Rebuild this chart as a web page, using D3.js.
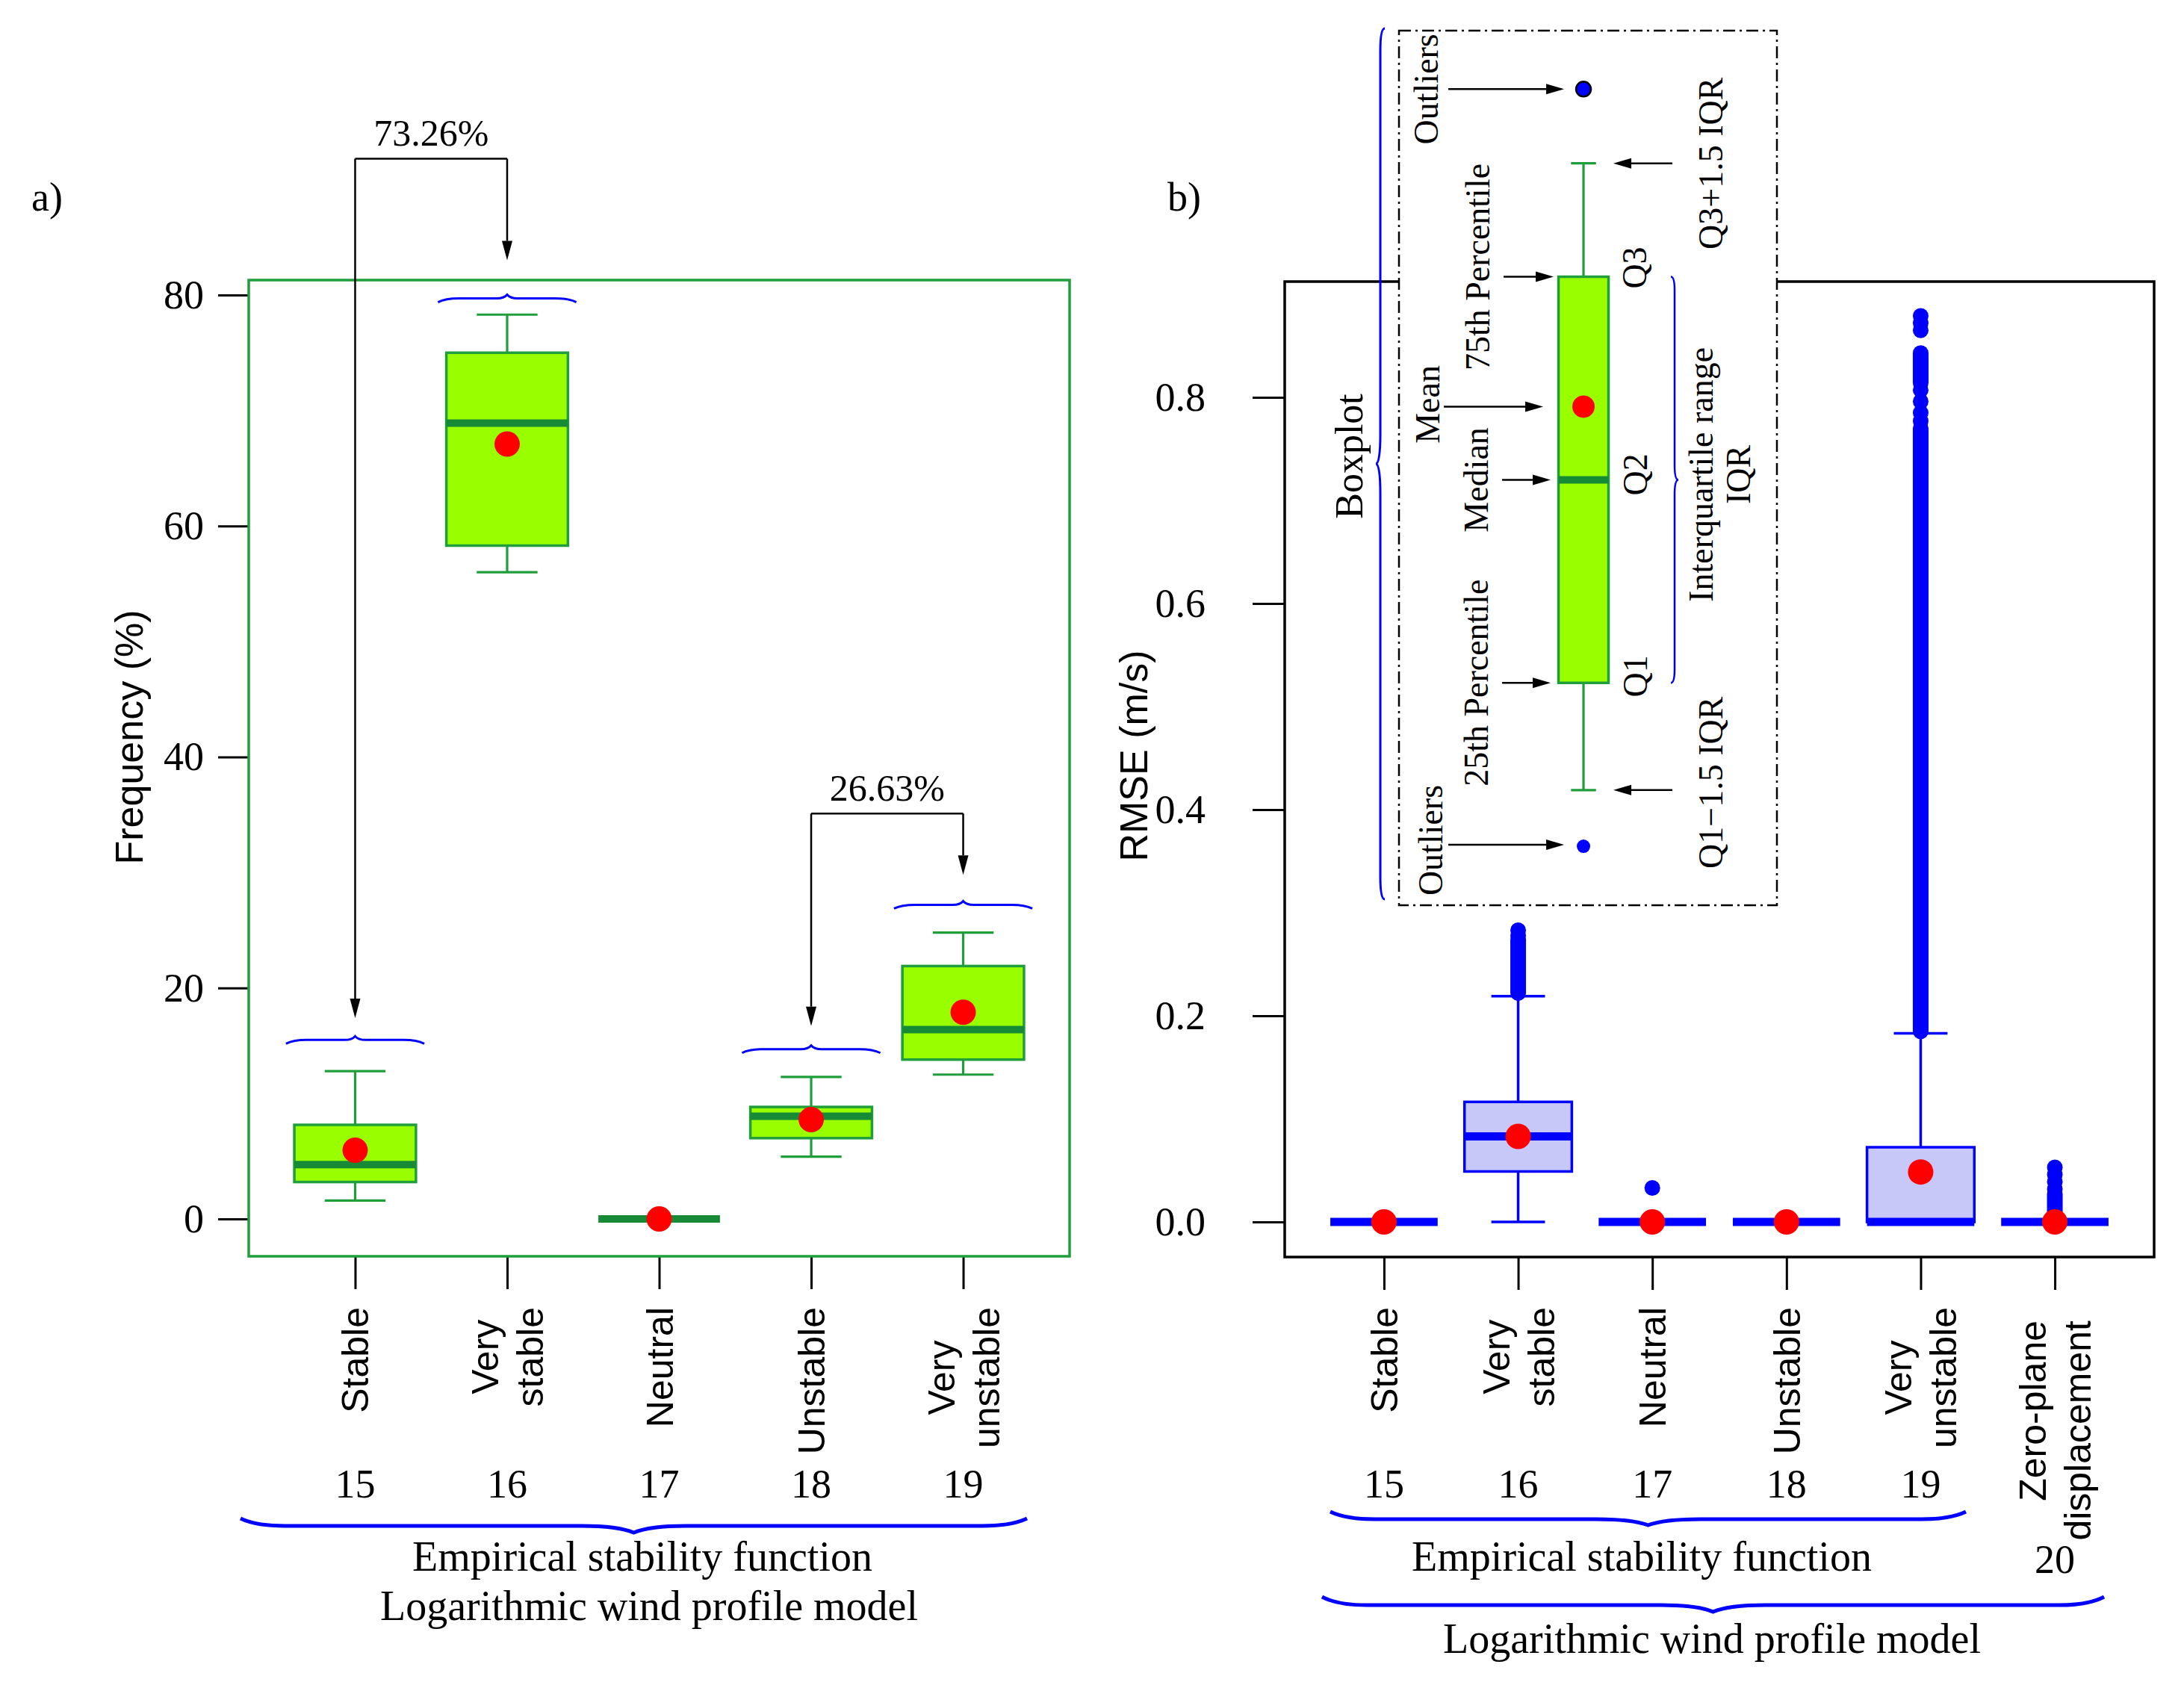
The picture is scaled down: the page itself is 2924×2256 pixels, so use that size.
<!DOCTYPE html>
<html>
<head>
<meta charset="utf-8">
<script src="https://cdn.jsdelivr.net/npm/d3@7"></script>
<style>
  body { margin: 0; background: #fff; }
</style>
</head>
<body>
<svg id="chart"></svg>
<script>
// ---- data: panel a, frequency of stability classes ----
const freqCategories = ['Stable', 'Very\nstable', 'Neutral', 'Unstable', 'Very\nunstable']
const freqCodes = ['15', '16', '17', '18', '19']
const freqLow = [1.6, 56.0, 0, 5.4, 12.5]
const freqQ1 = [3.2, 58.3, 0, 7.0, 13.8]
const freqMedian = [4.7, 68.9, 0, 8.9, 16.4]
const freqQ3 = [8.15, 75.0, 0, 9.7, 21.9]
const freqHigh = [12.8, 78.3, 0, 12.3, 24.8]
const freqMean = [5.95, 67.1, 0, 8.6, 17.9]
const freqTicks = [0, 20, 40, 60, 80]
const freqBrace = [15.5, 79.7, null, 14.7, 27.2]
const freqShares = ['73.26%', '26.63%']
const freqShareFrom = [0, 3]
const freqShareTo = [1, 4]
const freqShareTop = [91.8, 35.1]
const freqShareTipFrom = [17.4, 16.7]
const freqShareTipTo = [83.0, 29.8]

// ---- data: panel b, RMSE ----
const rmseCategories = ['Stable', 'Very\nstable', 'Neutral', 'Unstable', 'Very\nunstable', 'Zero-plane\ndisplacement']
const rmseCodes = ['15', '16', '17', '18', '19', '20']
const rmseLow = [0, 0, 0, 0, 0, 0]
const rmseQ1 = [0, 0.049, 0, 0, 0, 0]
const rmseMedian = [0, 0.083, 0, 0, 0, 0]
const rmseQ3 = [0, 0.1165, 0, 0, 0.0725, 0]
const rmseHigh = [0, 0.219, 0, 0, 0.183, 0]
const rmseMean = [0, 0.083, 0, 0, 0.0485, 0]
const rmseTicks = [0, 0.2, 0.4, 0.6, 0.8]
// single outliers, and runs of outliers so dense they merge into a bar
const rmseOutliers = [
  [],
  [0.278, 0.283],
  [0.033],
  [],
  [0.879, 0.872, 0.865, 0.807, 0.796, 0.785, 0.777],
  [0.053, 0.046, 0.039, 0.032]
]
const rmseOutlierRuns = [
  [],
  [[0.222, 0.274]],
  [],
  [],
  [[0.814, 0.843], [0.185, 0.770]],
  [[0, 0.027]]
]

// ---- legend box (drawn on the RMSE scale) ----
const legendStats = { low: 0.419, q1: 0.523, median: 0.72, mean: 0.791, q3: 0.917, high: 1.027, outLow: 0.3645, outHigh: 1.099 }

const W = 2924
const H = 2256
const SERIF = '"Liberation Serif", "Times New Roman", serif'
const SANS = '"Liberation Sans", Arial, sans-serif'
const GREEN = '#1f9e3b'
const DKGREEN = '#178a35'
const LIME = '#99ff00'
const BLUE = '#0000ff'
const LAVENDER = '#c8c8f8'
const RED = '#ff0000'

const svg = d3.select('#chart').attr('width', W).attr('height', H)
svg.append('rect').attr('width', W).attr('height', H).attr('fill', '#fff')

function vText(g, x, y, str, size, family, anchor) {
  return g.append('text')
    .attr('transform', 'translate(' + x + ',' + y + ') rotate(-90)')
    .attr('text-anchor', anchor || 'middle')
    .attr('font-family', family)
    .attr('font-size', size)
    .attr('fill', '#000')
    .text(str)
}

function hText(g, x, y, str, size, family, anchor) {
  return g.append('text')
    .attr('x', x).attr('y', y)
    .attr('text-anchor', anchor || 'middle')
    .attr('font-family', family)
    .attr('font-size', size)
    .attr('fill', '#000')
    .text(str)
}

// horizontal curly brace, dir -1 = tip up, +1 = tip down
function hBrace(x0, x1, y, dir, tip, end, re, rc) {
  const xm = (x0 + x1) / 2
  return 'M' + x0 + ',' + (y - dir * end) +
    'Q' + (x0 + re * 0.35) + ',' + y + ' ' + (x0 + re) + ',' + y +
    'L' + (xm - rc) + ',' + y +
    'Q' + (xm - rc * 0.3) + ',' + y + ' ' + xm + ',' + (y + dir * tip) +
    'Q' + (xm + rc * 0.3) + ',' + y + ' ' + (xm + rc) + ',' + y +
    'L' + (x1 - re) + ',' + y +
    'Q' + (x1 - re * 0.35) + ',' + y + ' ' + x1 + ',' + (y - dir * end)
}

// vertical curly brace, dir -1 = tip left, +1 = tip right
function vBrace(y0, y1, x, dir, tip, end, re, rc) {
  const ym = (y0 + y1) / 2
  return 'M' + (x - dir * end) + ',' + y0 +
    'Q' + x + ',' + y0 + ' ' + x + ',' + (y0 + re) +
    'L' + x + ',' + (ym - rc) +
    'Q' + x + ',' + ym + ' ' + (x + dir * tip) + ',' + ym +
    'Q' + x + ',' + ym + ' ' + x + ',' + (ym + rc) +
    'L' + x + ',' + (y1 - re) +
    'Q' + x + ',' + y1 + ' ' + (x - dir * end) + ',' + y1
}

function arrow(g, x1, y1, x2, y2, head, hw) {
  const ang = Math.atan2(y2 - y1, x2 - x1)
  const bx = x2 - head * Math.cos(ang)
  const by = y2 - head * Math.sin(ang)
  g.append('line')
    .attr('x1', x1).attr('y1', y1).attr('x2', bx).attr('y2', by)
    .attr('stroke', '#000').attr('stroke-width', 2.5)
  g.append('path')
    .attr('d', 'M' + x2 + ',' + y2 +
      'L' + (bx + hw * Math.sin(ang)) + ',' + (by - hw * Math.cos(ang)) +
      'L' + (bx - hw * Math.sin(ang)) + ',' + (by + hw * Math.cos(ang)) + 'Z')
    .attr('fill', '#000')
}

function drawBox(g, x, y, pos, s, widthUnits, st) {
  const cx = x(pos)
  const half = (x(pos + widthUnits / 2) - x(pos - widthUnits / 2)) / 2
  const cap = half / 2
  const line = (x1, y1, x2, y2, w, c) => g.append('line')
    .attr('x1', x1).attr('y1', y1).attr('x2', x2).attr('y2', y2)
    .attr('stroke', c).attr('stroke-width', w)
  line(cx, y(s.q3), cx, y(s.high), st.whisker, st.stroke)
  line(cx, y(s.q1), cx, y(s.low), st.whisker, st.stroke)
  line(cx - cap, y(s.high), cx + cap, y(s.high), st.whisker, st.stroke)
  line(cx - cap, y(s.low), cx + cap, y(s.low), st.whisker, st.stroke)
  g.append('rect')
    .attr('x', cx - half).attr('y', y(s.q3))
    .attr('width', 2 * half).attr('height', y(s.q1) - y(s.q3))
    .attr('fill', st.fill).attr('stroke', st.stroke).attr('stroke-width', st.boxStroke)
  line(cx - half, y(s.median), cx + half, y(s.median), st.medWidth, st.median)
}

function catLabels(g, x, cats, top, topAligned) {
  const size = 50
  const gap = 60
  cats.forEach((c, i) => {
    const lines = c.split('\n')
    const cx = x(i + 1)
    const items = lines.map((ln, j) => {
      const bx = cx + (j - (lines.length - 1) / 2) * gap + 0.36 * size
      return { bx: bx, t: vText(g, bx, 0, ln, size, SANS, 'middle') }
    })
    const longest = d3.max(items, d => d.t.node().getComputedTextLength())
    items.forEach(d => {
      if (topAligned.indexOf(i) >= 0) {
        d.t.attr('text-anchor', 'end')
          .attr('transform', 'translate(' + d.bx + ',' + (top + 18) + ') rotate(-90)')
      } else {
        d.t.attr('transform', 'translate(' + d.bx + ',' + (top + longest / 2) + ') rotate(-90)')
      }
    })
  })
}

function styleAxis(sel) {
  sel.select('.domain').remove()
  sel.selectAll('.tick line').attr('stroke', '#000').attr('stroke-width', 3)
  sel.selectAll('.tick text')
    .attr('font-family', SERIF).attr('font-size', 54).attr('fill', '#000')
}

// =================== panel a ===================
const xA = d3.scaleLinear().domain([0.3, 5.7]).range([333, 1432])
const yA = d3.scaleLinear().domain([-3.23, 81.29]).range([1682, 375])
const gA = svg.append('g')

gA.append('g').attr('transform', 'translate(333,0)')
  .call(d3.axisLeft(yA).tickValues(freqTicks).tickSize(41).tickPadding(19).tickFormat(d3.format('d')))
  .call(styleAxis)
gA.append('g').attr('transform', 'translate(0,1682)')
  .call(d3.axisBottom(xA).tickValues(d3.range(1, freqCategories.length + 1)).tickSize(44).tickFormat(''))
  .call(styleAxis)

const freqStats = freqLow.map((d, i) => ({
  low: d, q1: freqQ1[i], median: freqMedian[i], q3: freqQ3[i], high: freqHigh[i], mean: freqMean[i]
}))
const greenStyle = { fill: LIME, stroke: GREEN, median: DKGREEN, whisker: 3.2, boxStroke: 3.5, medWidth: 10 }
freqStats.forEach((s, i) => drawBox(gA, xA, yA, i + 1, s, 0.8, greenStyle))
gA.selectAll('circle.mean').data(freqStats).enter().append('circle')
  .attr('class', 'mean')
  .attr('cx', (d, i) => xA(i + 1)).attr('cy', d => yA(d.mean))
  .attr('r', 17).attr('fill', RED)

gA.append('rect').attr('x', 333).attr('y', 375).attr('width', 1432 - 333).attr('height', 1682 - 375)
  .attr('fill', 'none').attr('stroke', GREEN).attr('stroke-width', 3.5)

// small braces above the boxes
freqBrace.forEach((b, i) => {
  if (b === null) return
  gA.append('path')
    .attr('d', hBrace(xA(i + 1 - 0.455), xA(i + 1 + 0.455), yA(b), -1, 5, 5, 28, 14))
    .attr('fill', 'none').attr('stroke', BLUE).attr('stroke-width', 3)
})

// share annotations
freqShares.forEach((txt, k) => {
  const x1 = xA(freqShareFrom[k] + 1)
  const x2 = xA(freqShareTo[k] + 1)
  const yt = yA(freqShareTop[k])
  gA.append('line').attr('x1', x1).attr('y1', yt).attr('x2', x2).attr('y2', yt)
    .attr('stroke', '#000').attr('stroke-width', 2.5)
  arrow(gA, x1, yt, x1, yA(freqShareTipFrom[k]), 26, 7)
  arrow(gA, x2, yt, x2, yA(freqShareTipTo[k]), 26, 7)
  hText(gA, (x1 + x2) / 2, yt - 17, txt, 50, SERIF)
})

vText(gA, 191, 987, 'Frequency (%)', 52, SANS)
hText(gA, 42, 282, 'a)', 54, SERIF, 'start')

catLabels(gA, xA, freqCategories, 1750, [])
freqCodes.forEach((c, i) => hText(gA, xA(i + 1), 2005, c, 54, SERIF))
gA.append('path').attr('d', hBrace(322, 1375, 2043, 1, 9, 10, 60, 70))
  .attr('fill', 'none').attr('stroke', BLUE).attr('stroke-width', 5)
hText(gA, 860, 2103, 'Empirical stability function', 56, SERIF)
hText(gA, 869, 2169, 'Logarithmic wind profile model', 56, SERIF)

// =================== panel b ===================
const xB = d3.scaleLinear().domain([0.26, 6.74]).range([1720, 2884])
const yB = d3.scaleLinear().domain([-0.034, 0.9123]).range([1683, 377])
const gB = svg.append('g')

gB.append('g').attr('transform', 'translate(1720,0)')
  .call(d3.axisLeft(yB).tickValues(rmseTicks).tickSize(43).tickPadding(63).tickFormat(d3.format('.1f')))
  .call(styleAxis)
gB.append('g').attr('transform', 'translate(0,1683)')
  .call(d3.axisBottom(xB).tickValues(d3.range(1, rmseCategories.length + 1)).tickSize(44).tickFormat(''))
  .call(styleAxis)

const rmseStats = rmseLow.map((d, i) => ({
  low: d, q1: rmseQ1[i], median: rmseMedian[i], q3: rmseQ3[i], high: rmseHigh[i], mean: rmseMean[i]
}))
const blueStyle = { fill: LAVENDER, stroke: BLUE, median: BLUE, whisker: 3.5, boxStroke: 3.5, medWidth: 11 }
rmseStats.forEach((s, i) => drawBox(gB, xB, yB, i + 1, s, 0.8, blueStyle))

rmseOutlierRuns.forEach((runs, i) => {
  runs.forEach(r => {
    gB.append('line')
      .attr('x1', xB(i + 1)).attr('x2', xB(i + 1))
      .attr('y1', yB(r[0])).attr('y2', yB(r[1]))
      .attr('stroke', BLUE).attr('stroke-width', 21).attr('stroke-linecap', 'round')
  })
})
rmseOutliers.forEach((pts, i) => {
  gB.selectAll(null).data(pts).enter().append('circle')
    .attr('cx', xB(i + 1)).attr('cy', d => yB(d))
    .attr('r', 10.5).attr('fill', BLUE)
})
gB.selectAll('circle.mean').data(rmseStats).enter().append('circle')
  .attr('class', 'mean')
  .attr('cx', (d, i) => xB(i + 1)).attr('cy', d => yB(d.mean))
  .attr('r', 17).attr('fill', RED)

gB.append('rect').attr('x', 1720).attr('y', 377).attr('width', 2884 - 1720).attr('height', 1683 - 377)
  .attr('fill', 'none').attr('stroke', '#000').attr('stroke-width', 3.5)

vText(gB, 1536, 1012, 'RMSE (m/s)', 52, SANS)
hText(gB, 1563, 282, 'b)', 54, SERIF, 'start')

catLabels(gB, xB, rmseCategories, 1750, [5])
rmseCodes.forEach((c, i) => hText(gB, xB(i + 1), i === 5 ? 2106 : 2005, c, 54, SERIF))
gB.append('path').attr('d', hBrace(1781, 2632, 2034, 1, 8, 10, 60, 70))
  .attr('fill', 'none').attr('stroke', BLUE).attr('stroke-width', 5)
hText(gB, 2198, 2103, 'Empirical stability function', 56, SERIF)
gB.append('path').attr('d', hBrace(1770, 2817, 2149, 1, 9, 11, 60, 70))
  .attr('fill', 'none').attr('stroke', BLUE).attr('stroke-width', 5)
hText(gB, 2292, 2213, 'Logarithmic wind profile model', 56, SERIF)

// =================== legend inset ===================
const gL = svg.append('g')
gL.append('rect').attr('x', 1873).attr('y', 41).attr('width', 2379 - 1873).attr('height', 1212 - 41)
  .attr('fill', '#fff').attr('stroke', '#000').attr('stroke-width', 2.5)
  .attr('stroke-dasharray', '16,6,3,6')

const legendAt = 2.487
const lx = xB(legendAt)
drawBox(gL, xB, yB, legendAt, legendStats, 0.373, { fill: LIME, stroke: GREEN, median: DKGREEN, whisker: 3.2, boxStroke: 3.5, medWidth: 10 })
gL.append('circle').attr('cx', lx).attr('cy', yB(legendStats.mean)).attr('r', 15).attr('fill', RED)
gL.append('circle').attr('cx', lx).attr('cy', yB(legendStats.outHigh)).attr('r', 10)
  .attr('fill', BLUE).attr('stroke', '#000').attr('stroke-width', 2.5)
gL.append('circle').attr('cx', lx).attr('cy', yB(legendStats.outLow)).attr('r', 9).attr('fill', BLUE)

const LF = 46
arrow(gL, lx - 181, yB(legendStats.outHigh), lx - 26, yB(legendStats.outHigh), 24, 7)
vText(gL, lx - 195, yB(legendStats.outHigh), 'Outliers', LF, SERIF)
arrow(gL, lx - 107, yB(legendStats.q3), lx - 40, yB(legendStats.q3), 24, 7)
vText(gL, lx - 126, yB(legendStats.q3) - 13, '75th Percentile', LF, SERIF)
arrow(gL, lx - 187, yB(legendStats.mean), lx - 54, yB(legendStats.mean), 24, 7)
vText(gL, lx - 193, yB(legendStats.mean) - 3, 'Mean', LF, SERIF)
arrow(gL, lx - 109, yB(legendStats.median), lx - 44, yB(legendStats.median), 24, 7)
vText(gL, lx - 128, yB(legendStats.median), 'Median', LF, SERIF)
arrow(gL, lx - 109, yB(legendStats.q1), lx - 44, yB(legendStats.q1), 24, 7)
vText(gL, lx - 128, yB(legendStats.q1), '25th Percentile', LF, SERIF)
arrow(gL, lx - 181, yB(legendStats.outLow) - 2, lx - 26, yB(legendStats.outLow) - 2, 24, 7)
vText(gL, lx - 189, yB(legendStats.outLow) - 8, 'Outliers', LF, SERIF)

vText(gL, lx + 84, yB(legendStats.q3) - 12, 'Q3', LF, SERIF)
vText(gL, lx + 85, yB(legendStats.median) - 7, 'Q2', LF, SERIF)
vText(gL, lx + 85, yB(legendStats.q1) - 9, 'Q1', LF, SERIF)
arrow(gL, lx + 119, yB(legendStats.high), lx + 40, yB(legendStats.high), 24, 7)
vText(gL, lx + 186, yB(legendStats.high), 'Q3+1.5 IQR', LF, SERIF)
arrow(gL, lx + 119, yB(legendStats.low), lx + 40, yB(legendStats.low), 24, 7)
vText(gL, lx + 186, yB(legendStats.low) - 10, 'Q1\u22121.5 IQR', LF, SERIF)

gL.append('path').attr('d', vBrace(yB(legendStats.q3), yB(legendStats.q1), 2242, 1, 5, 5, 18, 20))
  .attr('fill', 'none').attr('stroke', BLUE).attr('stroke-width', 2.5)
vText(gL, 2293, yB(legendStats.median) - 7, 'Interquartile range', LF, SERIF)
vText(gL, 2343, yB(legendStats.median) - 7, 'IQR', LF, SERIF)

gL.append('path').attr('d', vBrace(38, 1204, 1848, -1, 6, 6, 30, 40))
  .attr('fill', 'none').attr('stroke', BLUE).attr('stroke-width', 3)
vText(gL, 1824, 611, 'Boxplot', 52, SERIF)
</script>
</body>
</html>
